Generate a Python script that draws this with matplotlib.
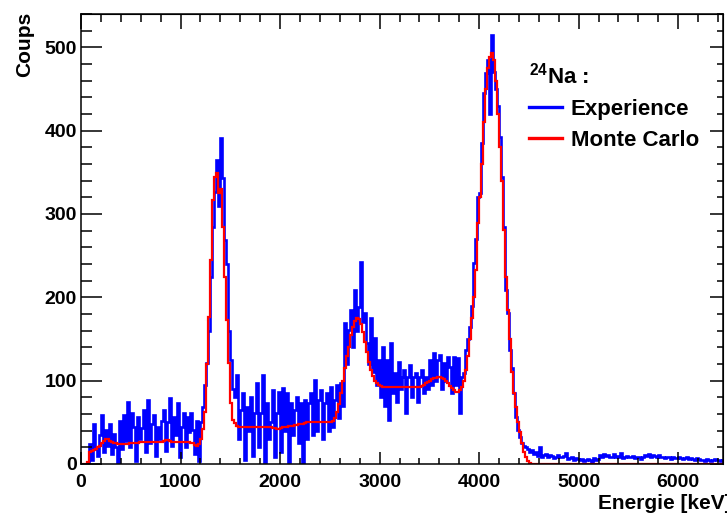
import matplotlib
matplotlib.use('agg')
import numpy as np
import matplotlib.pyplot as plt
from matplotlib.ticker import MultipleLocator

plt.rcParams['font.family'] = 'Liberation Sans'
plt.rcParams['font.weight'] = 'bold'
plt.rcParams['mathtext.fontset'] = 'custom'
plt.rcParams['mathtext.bf'] = 'Liberation Sans:bold'
plt.rcParams['mathtext.rm'] = 'Liberation Sans:bold'

# 24Na spectrum, 20 keV bins starting at 0 keV
bin_width = 20

exp_counts = [
    0, 0, 0, 0, 24, 5, 48, 18, 10, 35,
    59, 15, 41, 22, 48, 12, 36, 21, 3, 52,
    18, 59, 28, 75, 20, 61, 45, 4, 57, 30,
    43, 65, 14, 77, 25, 48, 59, 10, 45, 30,
    52, 65, 16, 50, 79, 22, 57, 35, 73, 8,
    45, 61, 20, 57, 38, 61, 41, 12, 52, 4,
    50, 68, 95, 121, 160, 225, 285, 327, 365, 310,
    391, 343, 269, 240, 160, 125, 90, 80, 107, 30,
    65, 85, 5, 69, 40, 81, 10, 61, 97, 20,
    61, 107, 3, 73, 30, 51, 89, 8, 61, 87,
    15, 91, 40, 85, 2, 73, 35, 65, 81, 25,
    73, 0, 77, 30, 73, 85, 35, 101, 40, 77,
    89, 30, 73, 85, 40, 93, 45, 77, 95, 55,
    97, 70, 169, 120, 161, 185, 140, 209, 160, 189,
    243, 170, 181, 145, 120, 175, 110, 151, 95, 125,
    80, 141, 70, 125, 53, 145, 85, 109, 75, 123,
    90, 105, 113, 61, 105, 119, 80, 105, 109, 75,
    105, 113, 85, 105, 90, 125, 95, 133, 100, 125,
    131, 90, 121, 100, 129, 117, 85, 129, 95, 127,
    61, 105, 109, 137, 150, 165, 190, 241, 270, 321,
    325, 385, 445, 469, 485, 420, 515, 470, 450, 430,
    393, 345, 285, 209, 181, 137, 115, 85, 57, 41,
    32, 25, 22, 20, 18, 14, 17, 12, 15, 10,
    21, 9, 11, 12, 8, 11, 10, 7, 9, 11,
    9, 8, 10, 13, 6, 7, 8, 5, 7, 6,
    5, 6, 4, 5, 6, 5, 3, 7, 5, 6,
    11, 9, 12, 10, 11, 9, 8, 12, 9, 10,
    8, 13, 7, 9, 10, 8, 9, 10, 7, 9,
    8, 6, 9, 11, 10, 12, 9, 11, 10, 8,
    11, 9, 8, 7, 8, 9, 6, 8, 7, 7,
    8, 7, 6, 7, 8, 6, 7, 6, 5, 7,
    6, 5, 5, 4, 6, 5, 4, 5, 6, 5,
    5, 4, 5,
]

mc_counts = [
    0, 0, 0, 2, 14, 16, 17, 18, 20, 22,
    25, 28, 30, 30, 28, 26, 25, 25, 24, 24,
    24, 24, 24, 24, 25, 25, 25, 25, 25, 26,
    26, 26, 26, 26, 26, 26, 27, 27, 27, 27,
    27, 28, 29, 29, 28, 27, 27, 27, 27, 26,
    26, 26, 26, 26, 26, 25, 25, 23, 22, 24,
    30, 42, 63, 120, 177, 245, 317, 345, 349, 325,
    330, 285, 225, 173, 121, 73, 53, 49, 46, 45,
    45, 45, 44, 44, 44, 44, 44, 44, 44, 44,
    44, 44, 44, 44, 44, 44, 43, 43, 42, 42,
    43, 44, 45, 45, 46, 46, 46, 47, 47, 48,
    48, 48, 49, 50, 50, 50, 50, 50, 50, 50,
    50, 50, 50, 50, 50, 50, 52, 55, 62, 72,
    85, 100, 115, 130, 141, 155, 165, 172, 175, 174,
    168, 158, 147, 135, 122, 113, 106, 100, 97, 95,
    94, 93, 93, 93, 93, 93, 93, 93, 93, 93,
    93, 93, 93, 93, 93, 93, 93, 93, 93, 93,
    93, 94, 95, 97, 99, 100, 102, 103, 103, 104,
    104, 103, 102, 100, 97, 94, 91, 89, 87, 87,
    89, 93, 100, 113, 130, 150, 175, 200, 233, 289,
    321, 360, 410, 450, 475, 488, 493, 485, 460, 420,
    380, 340, 281, 225, 185, 150, 110, 85, 69, 50,
    38, 25, 15, 8, 4, 1, 0, 0, 0, 0,
    0, 0, 0, 0, 0, 0, 0, 0, 0, 0,
    0, 0, 0, 0, 0, 0, 0, 0, 0, 0,
    0, 0, 0, 0, 0, 0, 0, 0, 0, 0,
    0, 0, 0, 0, 0, 0, 0, 0, 0, 0,
    0, 0, 0, 0, 0, 0, 0, 0, 0, 0,
    0, 0, 0, 0, 0, 0, 0, 0, 0, 0,
    0, 0, 0, 0, 0, 0, 0, 0, 0, 0,
    0, 0, 0, 0, 0, 0, 0, 0, 0, 0,
    0, 0, 0, 0, 0, 0, 0, 0, 0, 0,
    0, 0, 0,
]

edges = np.arange(len(exp_counts) + 1) * bin_width

W, H = 727, 513
fig = plt.figure(figsize=(W / 100, H / 100), dpi=100)
ax = fig.add_axes([81 / W, 49 / H, 642 / W, 450 / H])

ax.stairs(exp_counts, edges, color='#0000ff', lw=1.9, label='Experience')
ax.stairs(mc_counts, edges, color='#ff0000', lw=1.6, label='Monte Carlo')

ax.set_xlim(0, 6450)
ax.set_ylim(0, 540)

ax.xaxis.set_major_locator(MultipleLocator(1000))
ax.xaxis.set_minor_locator(MultipleLocator(200))
ax.yaxis.set_major_locator(MultipleLocator(100))
ax.yaxis.set_minor_locator(MultipleLocator(20))
for sp in ax.spines.values():
    sp.set_linewidth(1.1)

ax.tick_params(axis='both', which='both', direction='in', width=1.1,
               top=False, right=False, labelsize=14)
ax.tick_params(axis='y', which='major', length=15, pad=3)
ax.tick_params(axis='y', which='minor', length=8)
ax.tick_params(axis='x', which='major', length=8.7, pad=7)
ax.tick_params(axis='x', which='minor', length=4.5)

# top / right ticks are shorter in the original
top = ax.secondary_xaxis('top')
top.xaxis.set_major_locator(MultipleLocator(1000))
top.xaxis.set_minor_locator(MultipleLocator(200))
top.tick_params(which='both', direction='in', width=1.1, labeltop=False)
top.tick_params(which='major', length=10.5)
top.tick_params(which='minor', length=5.5)
right = ax.secondary_yaxis('right')
right.yaxis.set_major_locator(MultipleLocator(100))
right.yaxis.set_minor_locator(MultipleLocator(20))
right.tick_params(which='both', direction='in', width=1.1, labelright=False)
right.tick_params(which='major', length=9.5)
right.tick_params(which='minor', length=4.5)

fig.text(25 / W, 1 - 12 / H, 'Coups', rotation=90, ha='center', va='top',
         fontsize=15, fontweight='bold')
fig.text(732 / W, 1 - 494 / H, 'Energie [keV]', ha='right', va='top',
         fontsize=15, fontweight='bold')

leg = ax.legend(title=r'$^{\mathbf{24}}$Na :', loc='upper left',
                bbox_to_anchor=((522 - 81) / 642, (464 - 56) / 450),
                frameon=False, fontsize=16, title_fontsize=16,
                borderpad=0.3, borderaxespad=0, handlelength=1.5,
                handletextpad=0.4, labelspacing=0.45, alignment='left')
for t in leg.get_texts():
    t.set_fontweight('bold')
leg.get_title().set_fontweight('bold')
for h in leg.legend_handles:
    h.set_linewidth(2.4)

fig.savefig('out.png', dpi=100)
plt.close(fig)
